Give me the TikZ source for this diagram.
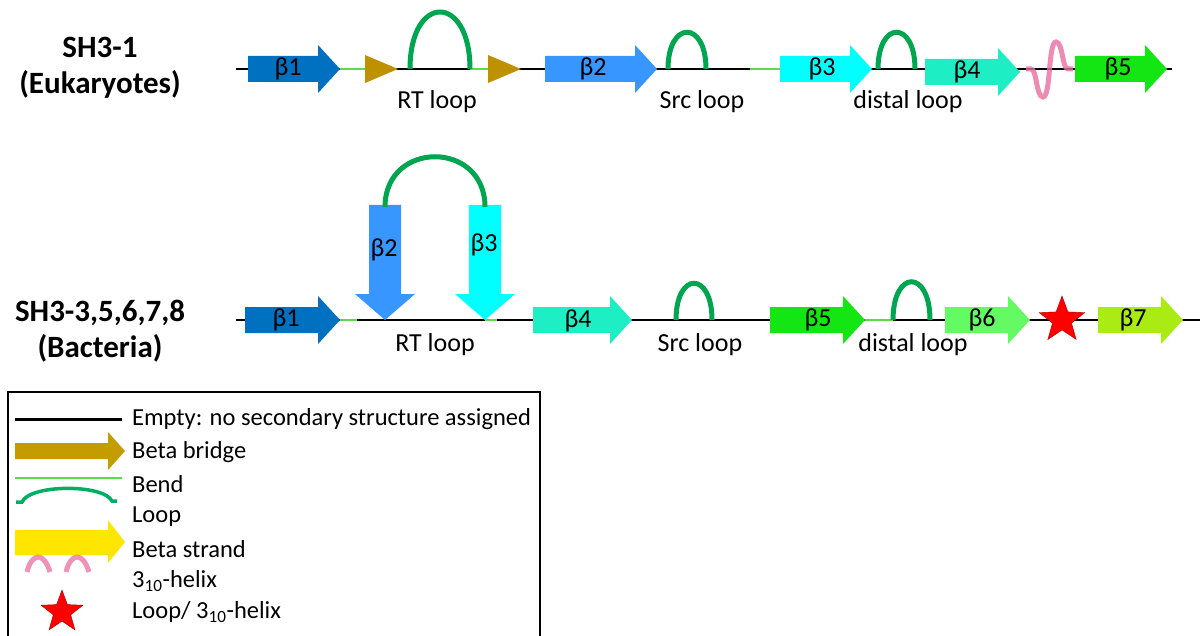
\documentclass[tikz,border=0pt]{standalone}
\usepackage{fontspec}
\setmainfont{Carlito}
\usetikzlibrary{shapes.geometric}
\definecolor{bOne}{RGB}{0,112,192}
\definecolor{bTwo}{RGB}{55,150,255}
\definecolor{bThree}{RGB}{0,255,255}
\definecolor{bFour}{RGB}{30,238,196}
\definecolor{bFive}{RGB}{20,230,20}
\definecolor{bSix}{RGB}{100,250,100}
\definecolor{bSeven}{RGB}{170,235,20}
\definecolor{bridgegold}{RGB}{190,145,0}
\definecolor{loopgreen}{RGB}{0,165,80}
\definecolor{bendgreen}{RGB}{90,220,70}
\definecolor{helixpink}{RGB}{232,110,160}
\definecolor{strandyellow}{RGB}{255,230,0}

\newcommand{\hstrand}[4]{\fill[#1] (#2,#4-13) -- (#3-22,#4-13) -- (#3-22,#4-24) -- (#3,#4) -- (#3-22,#4+24) -- (#3-22,#4+13) -- (#2,#4+13) -- cycle;}
\newcommand{\vstrand}[4]{\fill[#1] (#2-16,#3) -- (#2+16,#3) -- (#2+16,#4-26) -- (#2+30,#4-26) -- (#2,#4) -- (#2-30,#4-26) -- (#2-16,#4-26) -- (#2-16,#3) -- cycle;}

\begin{document}
\begin{tikzpicture}[x=1pt,y=-1pt,
    lbl/.style={font=\fontsize{26}{30}\selectfont},
    leg/.style={font=\fontsize{24.5}{28}\selectfont, anchor=west, inner sep=0pt},
    ttl/.style={font=\bfseries\fontsize{31}{36}\selectfont, align=center},
    backbone/.style={line width=2pt, black},
    bendline/.style={line width=2.5pt, bendgreen},
    loopline/.style={line width=5pt, loopgreen},
    bridge/.style={fill=bridgegold},
    redstar/.style={star, star points=5, star point ratio=2.4, fill=red, draw=red!65!black, inner sep=0pt, minimum size=#1}]
    \useasboundingbox (0,0) rectangle (1201,636);

    \node[ttl] (euk) at (100,68) {SH3-1\\(Eukaryotes)};
    \node[ttl] (bac) at (100,331) {SH3-3,5,6,7,8\\(Bacteria)};

    \draw[backbone] (236,69) -- (1172,69);
    \draw[bendline] (340,69) -- (365,69);
    \draw[bendline] (470,69) -- (488,69);
    \draw[bendline] (750,69) -- (780,69);
    \hstrand{bOne}{248}{340}{69}
    \fill[bridge] (365,55) -- (398,69) -- (365,83) -- cycle;
    \draw[loopline] (410,69) .. controls (410,-7) and (470,-7) .. (470,69);
    \fill[bridge] (488,55) -- (521,69) -- (488,83) -- cycle;
    \hstrand{bTwo}{545}{657}{69}
    \draw[loopline] (668,69) .. controls (668,20) and (706,20) .. (706,69);
    \hstrand{bThree}{780}{872}{69}
    \draw[loopline] (878,69) .. controls (878,20) and (915,20) .. (915,69);
    \hstrand{bFour}{925}{1020}{72}
    \draw[helixpink, line width=5pt, opacity=0.8] (1026,69) -- (1031,69) .. controls (1037,69) and (1036,97) .. (1043,97) .. controls (1051,97) and (1048,42) .. (1056,42) .. controls (1063,42) and (1062,69) .. (1068,69) -- (1073,69);
    \hstrand{bFive}{1075}{1167}{69}

    \node[lbl] (ta) at (288,69) {β1};
    \node[lbl] (tb) at (593,69) {β2};
    \node[lbl] (tc) at (822,69) {β3};
    \node[lbl] (td) at (967,72) {β4};
    \node[lbl] (te) at (1118,69) {β5};
    \node[lbl] (rtA) at (437,102) {RT loop};
    \node[lbl] (srcA) at (702,102) {Src loop};
    \node[lbl] (disA) at (908,102) {distal loop};

    \draw[backbone] (236,320) -- (1200,320);
    \draw[bendline] (340,320) -- (357,320);
    \draw[bendline] (485,320) -- (497,320);
    \draw[bendline] (865,320) -- (893,320);
    \hstrand{bOne}{245}{340}{320}
    \vstrand{bTwo}{385}{205}{320}
    \vstrand{bThree}{485}{205}{320}
    \draw[loopline] (385,207) .. controls (385,140) and (485,140) .. (485,207);
    \hstrand{bFour}{533}{632}{320}
    \draw[loopline] (676,320) .. controls (676,271) and (712,271) .. (712,320);
    \hstrand{bFive}{770}{865}{320}
    \draw[loopline] (893,320) .. controls (893,269) and (930,269) .. (930,320);
    \hstrand{bSix}{945}{1030}{320}
    \node[redstar=48pt] (star) at (1062,320) {};
    \hstrand{bSeven}{1098}{1183}{320}

    \node[lbl] (ba) at (286,320) {β1};
    \node[lbl] (bb) at (384,250) {β2};
    \node[lbl] (bc) at (484,245) {β3};
    \node[lbl] (bd) at (578,321) {β4};
    \node[lbl] (be) at (818,320) {β5};
    \node[lbl] (bf) at (982,320) {β6};
    \node[lbl] (bg) at (1133,320) {β7};
    \node[lbl] (rtB) at (435,345) {RT loop};
    \node[lbl] (srcB) at (700,345) {Src loop};
    \node[lbl] (disB) at (913,345) {distal loop};

    \draw[line width=1.5pt] (8,640) -- (8,392) -- (540,392) -- (540,640);
    \draw[line width=3pt] (15,419) -- (122,419);
    \fill[bridgegold!90!yellow] (15,443) -- (108,443) -- (108,432) -- (125,451) -- (108,470) -- (108,459) -- (15,459) -- cycle;
    \draw[bendline, line width=2pt] (15,478) -- (122,478);
    \draw[loopline, line width=3.5pt, color=loopgreen!90!cyan] (16,502) -- (22,502) .. controls (30,484) and (104,484) .. (112,501) -- (117,501);
    \fill[strandyellow] (15,530) -- (108,530) -- (108,520) -- (125,542) -- (108,563) -- (108,555) -- (15,555) -- cycle;
    \draw[helixpink, line width=5pt, opacity=0.75] (27,572) .. controls (32,552) and (44,552) .. (50,572);
    \draw[helixpink, line width=5pt, opacity=0.75] (66,572) .. controls (71,552) and (83,552) .. (89,572);
    \node[redstar=44pt] (legstar) at (62,612) {};

    \node[leg] (lgA) at (132,419) {Empty: no secondary structure assigned};
    \node[leg] (lgB) at (132,452) {Beta bridge};
    \node[leg] (lgC) at (132,484) {Bend};
    \node[leg] (lgD) at (132,517) {Loop};
    \node[leg] (lgE) at (132,549) {Beta strand};
    \node[leg] (lgF) at (132,581) {3\textsubscript{10}-helix};
    \node[leg] (lgG) at (132,612) {Loop/ 3\textsubscript{10}-helix};
\end{tikzpicture}
\end{document}
